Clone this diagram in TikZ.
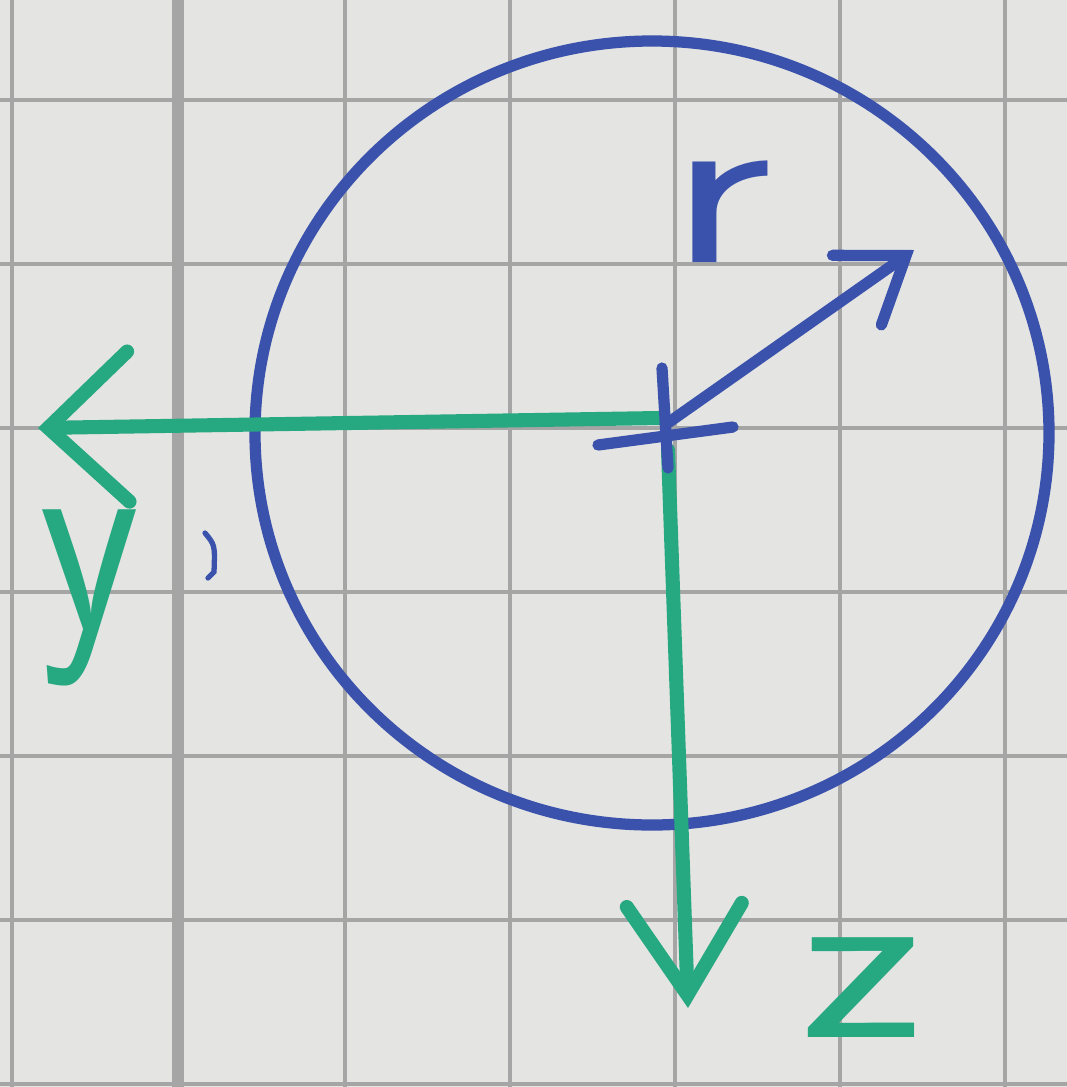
\documentclass[tikz,border=0pt]{standalone}
\usetikzlibrary{arrows.meta}
\definecolor{paper}{RGB}{228,228,226}
\definecolor{gridc}{RGB}{165,165,165}
\definecolor{penblue}{RGB}{58,82,172}
\definecolor{pengreen}{RGB}{38,168,128}
\tikzset{
  gridline/.style={draw=gridc, line width=1.4pt},
  thickgrid/.style={draw=gridc, line width=3.2pt},
  bluepen/.style={draw=penblue, line width=3.2pt, line cap=round, line join=round},
  greenpen/.style={draw=pengreen, line width=4pt, line cap=round, line join=round},
  label/.style={font=\sffamily\fontsize{66}{66}\selectfont, inner sep=0pt},
}
\begin{document}
\begin{tikzpicture}[x=0.01cm, y=-0.01cm]
\useasboundingbox (0,0) rectangle (1067,1087);
\fill[paper] (0,0) rectangle (1067,1087);
% grid
\foreach \gx in {12,345,510,675,840,1005}
  \draw[gridline] (\gx,0) -- (\gx,1087);
\draw[thickgrid] (178,0) -- (178,1087);
\foreach \gy in {100,264,428,592,756,920,1084}
  \draw[gridline] (0,\gy) -- (1067,\gy);
% circle
\coordinate (c) at (652,433);
\draw[bluepen] (c) ellipse [x radius=397, y radius=392];
% origin and axis ends
\coordinate (o) at (665,425);
\coordinate (yend) at (38,428);
\coordinate (zend) at (688,1008);
\coordinate (rend) at (914,250);
\draw[greenpen, -{Straight Barb[length=8mm,width=15mm,line cap=round]}] (660,418) -- (yend);
\draw[greenpen, -{Straight Barb[length=9mm,width=11.5mm,line cap=round]}] (668,450) -- (zend);
\draw[bluepen, -{Straight Barb[length=6mm,width=8.5mm,line cap=round]}] (o) -- (rend);
% cross at origin
\draw[bluepen] (662,368) -- (668,468);
\draw[bluepen] (598,445) -- (733,427);
% stray mark
\draw[penblue, line width=1.5pt, line cap=round] (205,533) .. controls (215,545) .. (214,572) -- (208,578);
% labels
\node[label, text=penblue, xscale=1.4] (r) at (720,212) {r};
\node[label, text=pengreen, yscale=1.2] (y) at (90,598) {y};
\node[label, text=pengreen, xscale=1.3] (z) at (862,988) {z};
\end{tikzpicture}
\end{document}
